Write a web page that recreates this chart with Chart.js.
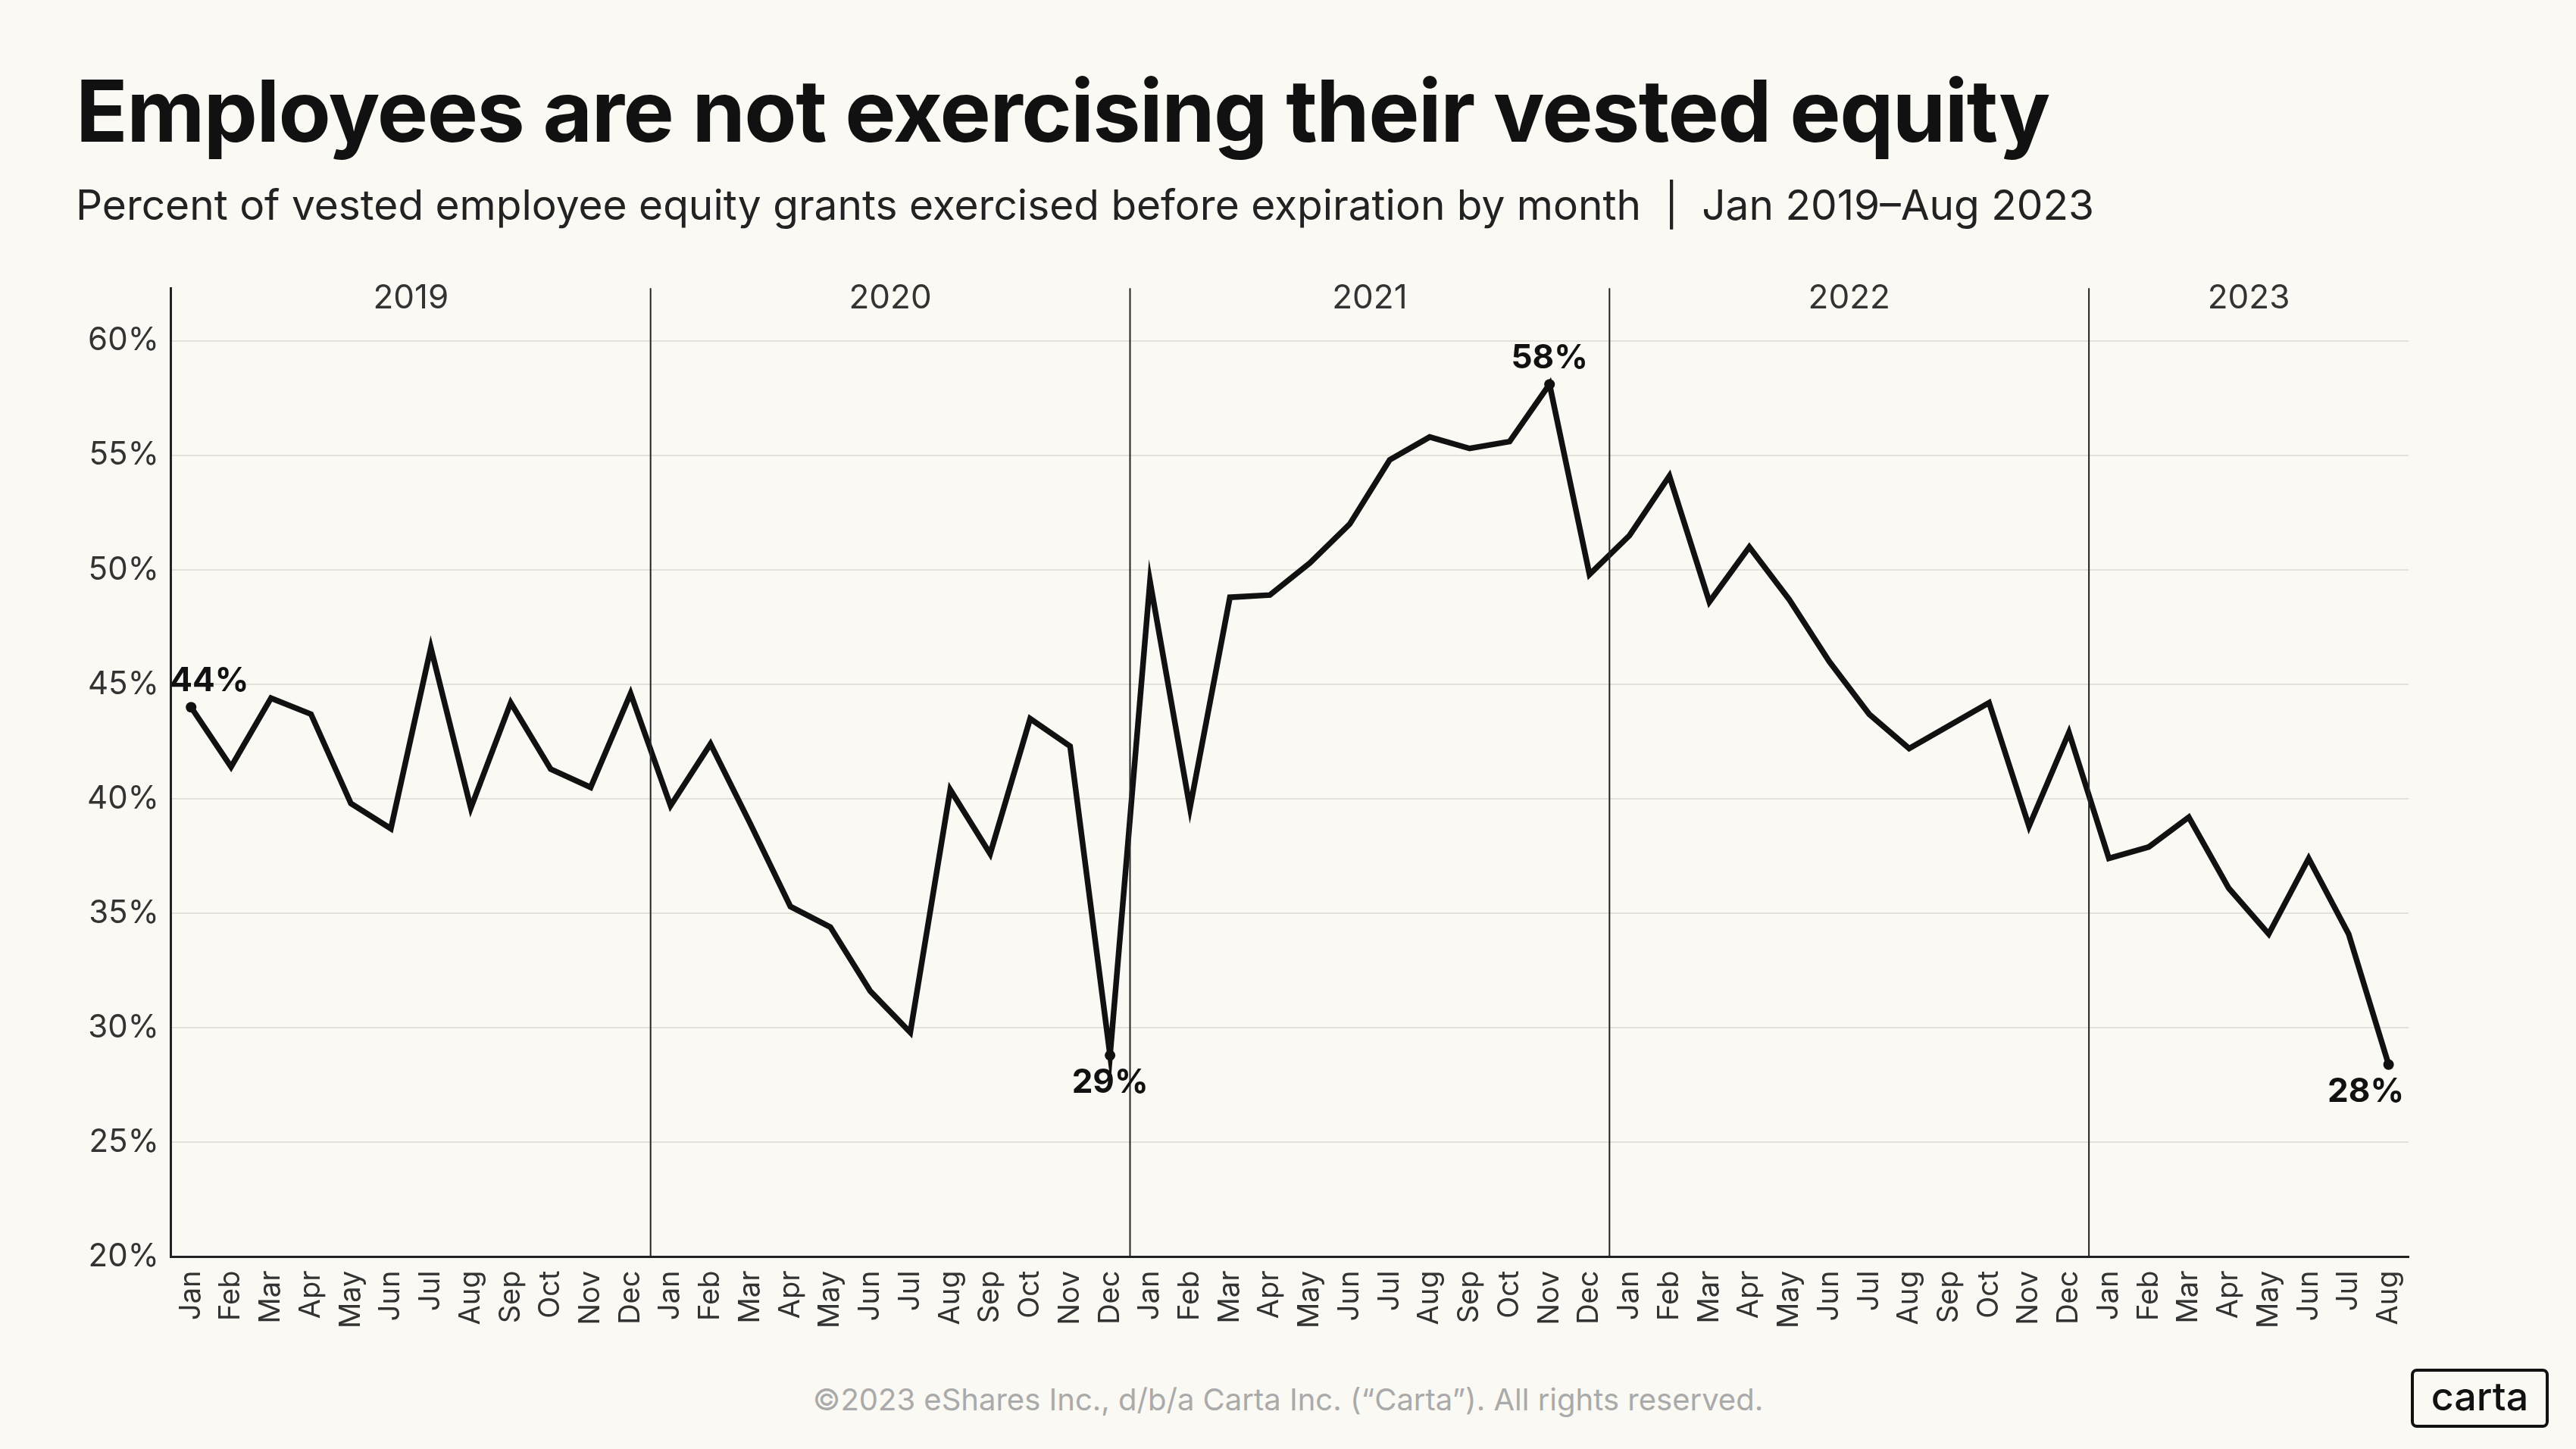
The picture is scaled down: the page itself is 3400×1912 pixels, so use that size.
<!DOCTYPE html>
<html><head><meta charset="utf-8">
<script src="https://cdn.jsdelivr.net/npm/chart.js@4"></script>
<style>
html,body{margin:0;padding:0;background:#fbf9f3;width:3400px;height:1912px;overflow:hidden;font-family:Inter,"Open Sans",sans-serif;}
#title{position:absolute;left:100px;top:78px;font-size:113px;font-weight:700;color:#111;letter-spacing:-1.5px;}
#sub{position:absolute;left:100px;top:237px;font-size:55px;color:#222;}
#wrap{position:absolute;left:0;top:339px;width:3400px;height:1424px;}
#foot{position:absolute;left:0;width:3400px;top:1822px;text-align:center;font-size:40px;color:#aaa;}
#logo{position:absolute;left:3182px;top:1806px;width:182px;height:78px;border:4px solid #111;border-radius:8px;box-sizing:border-box;font-size:52px;font-weight:500;text-align:center;line-height:66px;color:#111;}
</style></head><body>
<div id="title">Employees are not exercising their vested equity</div>
<div id="sub">Percent of vested employee equity grants exercised before expiration by month &nbsp;|&nbsp; Jan 2019–Aug 2023</div>
<div id="wrap"><canvas id="c"></canvas></div>
<div id="foot">©2023 eShares Inc., d/b/a Carta Inc. (“Carta”). All rights reserved.</div>
<div id="logo">carta</div>
<script>
const months=["Jan","Feb","Mar","Apr","May","Jun","Jul","Aug","Sep","Oct","Nov","Dec"];
const years=["2019","2020","2021","2022","2023"];
const labels=[];years.forEach(y=>months.forEach(m=>{if(!(y==="2023"&&months.indexOf(m)>7))labels.push(m);}));
const values=[44.0,41.4,44.4,43.7,39.8,38.7,46.6,39.6,44.2,41.3,40.5,44.6,
39.7,42.4,38.9,35.3,34.4,31.6,29.8,40.4,37.6,43.5,42.3,28.8,
49.5,39.6,48.8,48.9,50.3,52.0,54.8,55.8,55.3,55.6,58.1,49.8,
51.5,54.1,48.6,51.0,48.7,46.0,43.7,42.2,43.2,44.2,38.8,42.9,
37.4,37.9,39.2,36.1,34.1,37.4,34.1,28.4];
const annIdx=[0,23,34,55];
const annText=["44%","29%","58%","28%"];
const annPos=["above","below","above","below"];
const yTicks=[20,25,30,35,40,45,50,55,60];
const deco={id:'deco',afterDraw(ch){
 const c=ch.ctx,x=ch.scales.x,a=ch.chartArea;
 c.save();c.strokeStyle='#222';c.lineWidth=2;
 c.font='44px Inter';c.fillStyle='#333';c.textAlign='center';c.textBaseline='top';
 years.forEach((y,i)=>{
  const s=i*12;const e=Math.min(s+12,labels.length);
  const xl=i===0?a.left:(x.getPixelForValue(s-1)+x.getPixelForValue(s))/2;
  const xr=e>=labels.length?a.right:(x.getPixelForValue(e-1)+x.getPixelForValue(e))/2;
  if(i>0){c.beginPath();c.moveTo(xl,a.top);c.lineTo(xl,a.bottom);c.stroke();}
  c.fillText(y,(xl+xr)/2,a.top-8);
 });
 const m=ch.getDatasetMeta(0);
 c.font='bold 44px Inter';c.fillStyle='#111';
 annIdx.forEach((k,j)=>{const p=m.data[k];
  c.textBaseline=annPos[j]==='above'?'bottom':'top';
  c.fillText(annText[j],p.x+(k===0?24:0)-(k===55?30:0),annPos[j]==='above'?p.y-12:p.y+14);});
 c.restore();}};
new Chart(document.getElementById('c'),{type:'line',
data:{labels,datasets:[{data:values,borderColor:'#111',borderWidth:7.5,tension:0,
 pointRadius:values.map((v,i)=>annIdx.includes(i)?7:0),pointBackgroundColor:'#111',pointBorderWidth:0}]},
options:{responsive:true,maintainAspectRatio:false,animation:false,
 layout:{padding:{left:99,right:221,top:30,bottom:0}},
 plugins:{legend:{display:false},tooltip:{enabled:false}},
 scales:{
  x:{offset:true,grid:{display:false},border:{color:'#222',width:3},
   ticks:{color:'#333',font:{size:38,family:'Inter'},minRotation:90,maxRotation:90,autoSkip:false,padding:10}},
  y:{min:20,max:62.3,grid:{color:'#e4e1da',lineWidth:2,drawTicks:false},border:{color:'#222',width:3},
   afterBuildTicks:s=>{s.ticks=yTicks.map(v=>({value:v}));},
   ticks:{color:'#333',font:{size:42,family:'Inter'},padding:16,callback:v=>v+'%'}}}},
plugins:[deco]});
</script></body></html>
